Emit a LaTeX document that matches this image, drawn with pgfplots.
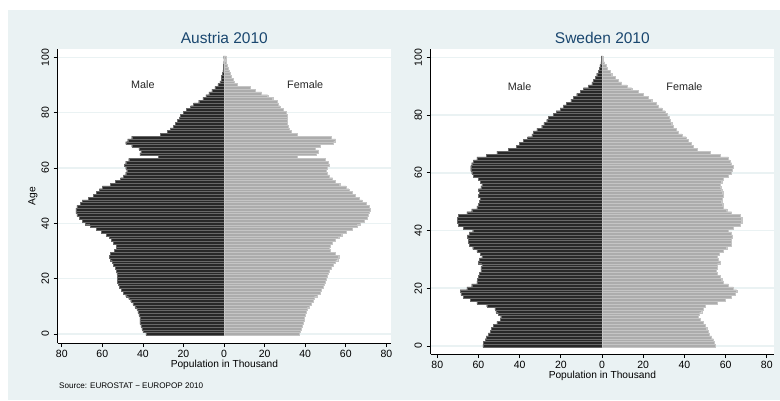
\documentclass[border=0pt]{standalone}
\usepackage{pgfplots}
\pgfplotsset{compat=1.18}
\usepackage{pgfplotstable}
\usepackage{fontspec}
\setmainfont{Liberation Sans}
\definecolor{bgc}{RGB}{234,242,243}
\definecolor{dknavy}{RGB}{26,71,111}
\definecolor{maleC}{RGB}{40,40,40}
\definecolor{femC}{RGB}{172,172,172}

\pgfplotstableread{
age male female
0 -38.5 37
1 -40 37.5
2 -40.5 38
3 -41 38.5
4 -41.5 39
5 -41.5 39.5
6 -41.5 39.5
7 -42 40
8 -42.5 40.5
9 -43 41
10 -44 42
11 -45 43
12 -46 44
13 -47 44.5
14 -48.5 46
15 -49.5 47.5
16 -50.5 48
17 -51.5 49
18 -52 49.5
19 -52.5 50
20 -52.5 50.5
21 -52.5 51
22 -52.8 51.5
23 -53 52
24 -53.5 53
25 -54.5 54
26 -55 55
27 -56 56
28 -56.5 56.5
29 -56 55
30 -54 52.5
31 -53 52
32 -53 52.5
33 -54.5 53.5
34 -55.5 55
35 -56.5 56.5
36 -58 58
37 -60.5 60
38 -63 63
39 -66 65.5
40 -68.5 67
41 -70 69
42 -71.5 70.5
43 -72.5 71
44 -73 71.5
45 -73 72
46 -72.5 71.5
47 -71 70
48 -70 68
49 -67 66.5
50 -64.5 64.5
51 -63 63
52 -61.5 61.5
53 -60 60
54 -56 57
55 -53.5 55
56 -51 53.5
57 -49.5 52
58 -48.5 51
59 -48 50.5
60 -48.5 51
61 -49 52
62 -48.5 51.5
63 -47 50
64 -32.5 36
65 -41.5 45.5
66 -41 46.5
67 -42 45
68 -45.5 47.5
69 -48.5 54
70 -47.5 55
71 -45.5 53
72 -31.5 36
73 -28 33
74 -26.5 32.2
75 -25 31.4
76 -24 31.3
77 -23 31.3
78 -22 31.2
79 -21.5 31
80 -20 30.6
81 -18.5 29
82 -16.5 27.5
83 -15 26.8
84 -12.5 26.2
85 -10.5 24
86 -9 21.5
87 -7.5 18.5
88 -6 15.5
89 -4.5 13
90 -3 6.5
91 -2 5
92 -1.5 4.3
93 -1.2 3.6
94 -0.9 3
95 -0.6 2.5
96 -0.5 2
97 -0.3 1.5
98 -0.2 1.2
99 -0.15 0.8
100 -0.2 1
}\austria

\pgfplotstableread{
age male female
0 -57.9 54.9
1 -57.6 54.4
2 -56.8 54
3 -56.3 53.2
4 -55.2 52.1
5 -54.4 51.6
6 -53.9 50.8
7 -52.8 50
8 -51.1 49.2
9 -49.5 47.6
10 -49.2 46.8
11 -50.3 47.2
12 -51.5 48.4
13 -52 49.2
14 -56 50
15 -60.8 55.7
16 -64 59.7
17 -67.3 62.9
18 -68.6 64.6
19 -68.9 65.4
20 -65.7 63.8
21 -63.3 61.3
22 -60.8 58.9
23 -60.5 58.1
24 -60 57.3
25 -59.5 56
26 -58.9 55.3
27 -58.9 55.7
28 -58.4 56
29 -60 57.3
30 -59.5 56.5
31 -58.4 55.7
32 -59.2 57
33 -60.8 58.9
34 -62.8 60.5
35 -64.4 62.9
36 -64.9 62.9
37 -64.9 62.9
38 -65.4 63.4
39 -64.4 62.9
40 -62.8 61.3
41 -67.3 63.8
42 -69.7 67
43 -70.2 67.8
44 -70.2 67.8
45 -69.7 67
46 -65.7 62.9
47 -63.3 60.5
48 -60.8 58.9
49 -60 58.6
50 -59.5 58.1
51 -59.2 58.3
52 -60 58.9
53 -59.5 58.6
54 -60 58.1
55 -58.9 57.6
56 -58.4 57.3
57 -59.2 58.1
58 -60 58.9
59 -62.5 61.3
60 -63.3 62.9
61 -63.8 63.4
62 -63.8 63.8
63 -63.3 62.9
64 -62.5 62.1
65 -60.8 61.3
66 -56.3 57.3
67 -51.1 52.4
68 -45.5 46
69 -41.7 44.3
70 -40.1 43.5
71 -38.2 41.9
72 -36.2 40.8
73 -34.1 38.7
74 -33.3 37.1
75 -31.7 35.9
76 -29.3 34.6
77 -28.2 33.8
78 -26.9 33.3
79 -26.1 32.7
80 -23.6 31.7
81 -22.3 30.6
82 -20.4 29
83 -18.8 27.3
84 -17.2 26.2
85 -15.2 24.1
86 -13.9 22.5
87 -12.3 20.1
88 -10.7 17.6
89 -9.1 14.4
90 -6.6 12
91 -5 9.5
92 -4.2 7.9
93 -3.4 6.3
94 -2.6 4.7
95 -1.8 3.9
96 -1.3 2.3
97 -1 1.8
98 -0.6 1.1
99 -0.5 0.6
100 -0.3 0.4
}\sweden

\pgfplotsset{pyr/.style={
  scale only axis,
  anchor=south west,
  axis x line*=bottom, axis y line*=left,
  axis line style={black, line width=0.8pt},
  tick align=outside, major tick length=4bp,
  every tick/.style={black, line width=0.8pt},
  xtick={-80,-60,-40,-20,0,20,40,60,80},
  xticklabels={80,60,40,20,0,20,40,60,80},
  ytick={0,20,40,60,80,100},
  minor tick num=0,
  ymajorgrids, grid style={bgc, line width=1.6pt},
  axis background/.style={fill=white},
  ticklabel style={font=\fontsize{10.5bp}{12bp}\selectfont, text=black},
  /pgf/number format/assume math mode=true,
  yticklabel style={rotate=90, anchor=south, inner sep=4.5bp},
  xticklabel style={anchor=north},
  xlabel={Population in Thousand},
  every axis x label/.style={at={(axis description cs:0.5,0)}, anchor=center, yshift=-21.5bp, font=\fontsize{10.2bp}{12bp}\selectfont},
  every axis title/.style={at={(axis description cs:0.5,1)}, anchor=base, yshift=5.2bp, font=\fontsize{15.5bp}{18bp}\selectfont, text=dknavy},
  mbar/.style={xbar, bar width=1, bar shift=0pt, fill=maleC, draw=maleC!70!white, line width=0.3bp},
  fbar/.style={xbar, bar width=1, bar shift=0pt, fill=femC, draw=femC!70!white, line width=0.3bp},
}}

\begin{document}
\begin{tikzpicture}[x=1bp,y=1bp]
\useasboundingbox (0,0) rectangle (780,400);
\fill[white] (0,0) rectangle (780,400);
\fill[bgc] (8,0) rectangle (780,390);

\begin{axis}[pyr,
  at={(57.7bp,57bp)}, width=333.3bp, height=294bp,
  xmin=-82, xmax=82.3, ymin=-3.25, ymax=103,
  title={Austria 2010},
  ylabel={Age},
  every axis y label/.style={at={(axis description cs:-0.074,0.5)}, rotate=90, anchor=center, font=\fontsize{10.2bp}{12bp}\selectfont},
]
\addplot[mbar] table[x=male, y=age] {\austria};
\addplot[fbar] table[x=female, y=age] {\austria};
\node[font=\fontsize{10.8bp}{12bp}\selectfont, text=black!85] at (axis cs:-40,90) {Male};
\node[font=\fontsize{10.8bp}{12bp}\selectfont, text=black!85] at (axis cs:40,90) {Female};
\end{axis}

\begin{axis}[pyr,
  at={(430.7bp,46bp)}, width=343.3bp, height=305bp,
  xmin=-83.2, xmax=83.5, ymin=-2.8, ymax=102.9,
  title={Sweden 2010},
]
\addplot[mbar] table[x=male, y=age] {\sweden};
\addplot[fbar] table[x=female, y=age] {\sweden};
\node[font=\fontsize{10.8bp}{12bp}\selectfont, text=black!85] at (axis cs:-40,90) {Male};
\node[font=\fontsize{10.8bp}{12bp}\selectfont, text=black!85] at (axis cs:40,90) {Female};
\end{axis}

\node[anchor=west, inner sep=0pt, font=\fontsize{8.1bp}{10bp}\selectfont] at (59,14) {Source: EUROSTAT − EUROPOP 2010};
\end{tikzpicture}
\end{document}
